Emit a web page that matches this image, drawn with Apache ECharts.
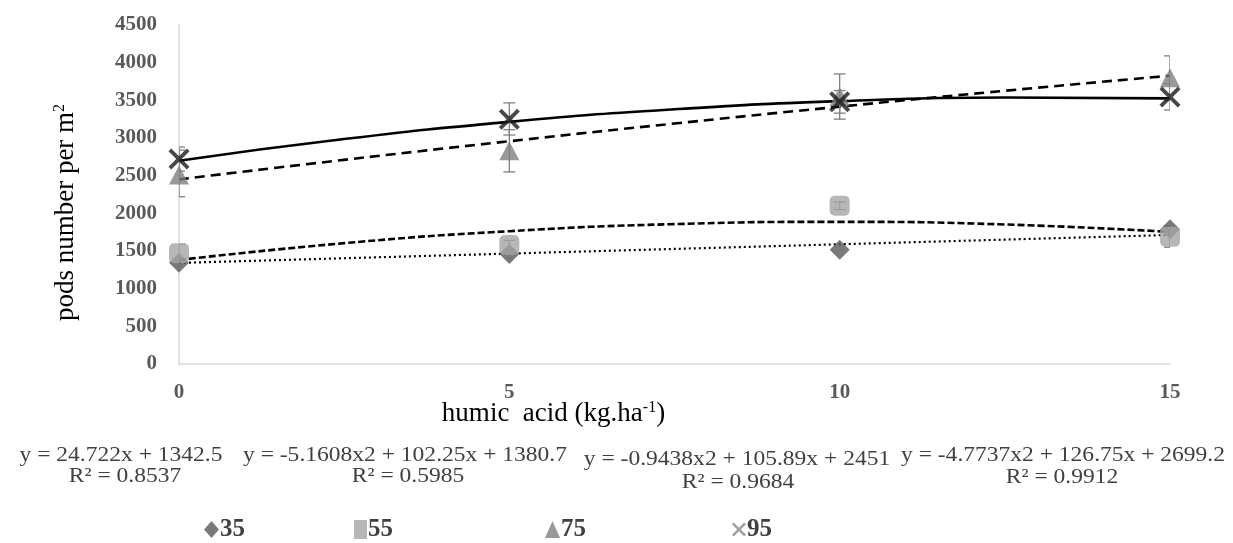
<!DOCTYPE html>
<html>
<head>
<meta charset="utf-8">
<script src="https://cdn.jsdelivr.net/npm/echarts@6/dist/echarts.min.js"></script>
<style>html,body{margin:0;padding:0;background:#fff}#c{width:1233px;height:543px}</style>
</head>
<body>
<div id="c"></div>
<script>
// ---- data ----
const xVals = [0, 5, 10, 15];
const seriesNames = ['35', '55', '75', '95'];
const s35 = [1345, 1460, 1515, 1790];
const s55 = [1470, 1580, 2100, 1690];
const s75 = [2510, 2830, 3550, 3800];
const s95 = [2720, 3250, 3480, 3545];
// error bar ends
const e55Low = [1400, 1520, 2050, 1550];
const e55High = [1590, 1640, 2150, 1830];
const e75Low = [2220, 2550, 3250, 3500];
const e75High = [2880, 3110, 3850, 4090];
const e95Low = [2560, 3040, 3330, 3373];
const e95High = [2840, 3466, 3630, 3720];
// trendline values
const trendX35 = [0, 15];
const trend35 = [1342, 1713];
const trendX = [0, 2.5, 5, 7.5, 10, 12.5, 15];
const trend55 = [1381, 1604, 1763, 1857, 1887, 1852, 1753];
const trend75 = [2451, 2710, 2957, 3192, 3416, 3627, 3827];
const trend95 = [2699, 2986, 3214, 3381, 3489, 3538, 3526];
// equations
const eqLines = ['y = 24.722x + 1342.5', 'y = -5.1608x2 + 102.25x + 1380.7', 'y = -0.9438x2 + 105.89x + 2451', 'y = -4.7737x2 + 126.75x + 2699.2'];
const r2Lines = ['R² = 0.8537', 'R² = 0.5985', 'R² = 0.9684', 'R² = 0.9912'];
const yTicks = [0, 500, 1000, 1500, 2000, 2500, 3000, 3500, 4000, 4500];

const FONT = '"Liberation Serif", "Times New Roman", serif';
const XPATH = 'path://M0,1.3L1.3,0L5,3.7L8.7,0L10,1.3L6.3,5L10,8.7L8.7,10L5,6.3L1.3,10L0,8.7L3.7,5Z';

function pts(xs, ys) { return xs.map((x, i) => [x, ys[i]]); }
function errData(lo, hi) { return xVals.map((x, i) => [x, lo[i], hi[i]]); }

function errSeries(lo, hi, color) {
  return {
    type: 'custom', clip: true, z: 3, silent: true,
    data: errData(lo, hi),
    encode: { x: 0, y: [1, 2] },
    renderItem: function (params, api) {
      const x = api.value(0);
      const a = api.coord([x, api.value(1)]);
      const b = api.coord([x, api.value(2)]);
      const w = 6;
      const st = { stroke: color, lineWidth: 1.3, fill: null };
      return {
        type: 'group',
        children: [
          { type: 'line', shape: { x1: a[0], y1: a[1], x2: b[0], y2: b[1] }, style: st },
          { type: 'line', shape: { x1: a[0] - w, y1: a[1], x2: a[0] + w, y2: a[1] }, style: st },
          { type: 'line', shape: { x1: b[0] - w, y1: b[1], x2: b[0] + w, y2: b[1] }, style: st }
        ]
      };
    }
  };
}

const chart = echarts.init(document.getElementById('c'), null, { renderer: 'canvas' });

const eqCenters = [121, 405, 737, 1063];
const r2Centers = [125, 408, 738, 1062];
const eqY = [455, 455, 459, 455];
const r2Y = [476, 476, 482, 477];
const graphics = [];
eqLines.forEach((t, i) => {
  graphics.push({ type: 'text', x: eqCenters[i], y: eqY[i], scaleX: 1.12,
    style: { text: t, font: '21px ' + FONT, fill: '#404040', align: 'center', verticalAlign: 'middle' } });
  graphics.push({ type: 'text', x: r2Centers[i], y: r2Y[i], scaleX: 1.12,
    style: { text: r2Lines[i], font: '21px ' + FONT, fill: '#404040', align: 'center', verticalAlign: 'middle' } });
});

const legendLeft = [204, 354, 545, 732];
const legendIcons = ['diamond', 'rect', 'triangle', XPATH];
const legendColors = ['#595959', '#a5a5a5', '#7f7f7f', '#8a8a8a'];
const legendW = [15, 13, 15, 14];
const legendH = [17, 19, 17, 14];

const option = {
  animation: false,
  backgroundColor: '#fff',
  textStyle: { fontFamily: FONT },
  grid: { left: 179, right: 63, top: 25, bottom: 179, containLabel: false },
  graphic: graphics,
  legend: seriesNames.map((n, i) => ({
    left: legendLeft[i], top: 517, padding: 0,
    data: [{ name: n, icon: legendIcons[i], itemStyle: { color: legendColors[i] } }],
    itemWidth: legendW[i], itemHeight: legendH[i], itemGap: 2,
    textStyle: { fontFamily: FONT, fontSize: 25, fontWeight: 'bold', color: '#404040', padding: [0, 0, 0, -4] }
  })),
  xAxis: {
    type: 'value', min: 0, max: 15, interval: 5,
    name: 'humic  acid (kg.ha{sup|-1})', nameLocation: 'middle', nameGap: 36, nameMoveOverlap: false,
    nameTextStyle: {
      fontFamily: FONT, fontSize: 27, color: '#000', padding: [0, 242, 0, 0],
      rich: { sup: { fontFamily: FONT, fontSize: 16, color: '#000', verticalAlign: 'top', padding: [0, 0, 12, 0] } }
    },
    axisLine: { show: true, onZero: false, lineStyle: { color: '#d9d9d9', width: 1.5 } },
    axisTick: { show: false },
    splitLine: { show: false },
    axisLabel: { fontFamily: FONT, fontSize: 21, fontWeight: 'bold', color: '#595959', margin: 18 }
  },
  yAxis: {
    type: 'value', min: 0, max: 4500, interval: 500,
    name: 'pods number per m{sup|2}', nameLocation: 'middle', nameGap: 99, nameRotate: 90, nameMoveOverlap: false,
    nameTextStyle: {
      fontFamily: FONT, fontSize: 27, color: '#000', padding: [0, 36, 0, 0],
      rich: { sup: { fontFamily: FONT, fontSize: 16, color: '#000', verticalAlign: 'top', padding: [0, 0, 12, 0] } }
    },
    axisLine: { show: true, lineStyle: { color: '#d9d9d9', width: 1.5 } },
    axisTick: { show: false },
    splitLine: { show: false },
    axisLabel: { fontFamily: FONT, fontSize: 21, fontWeight: 'bold', color: '#595959', margin: 22,
      formatter: v => yTicks.indexOf(v) >= 0 ? String(v) : '' }
  },
  series: [
    // trendlines
    { type: 'line', name: 't35', data: pts(trendX35, trend35), symbol: 'none', z: 2, silent: true,
      lineStyle: { color: '#000', width: 2.2, type: [2, 3] } },
    { type: 'line', name: 't55', data: pts(trendX, trend55), symbol: 'none', smooth: true, z: 2, silent: true,
      lineStyle: { color: '#000', width: 2.6, type: [7, 3] } },
    { type: 'line', name: 't75', data: pts(trendX, trend75), symbol: 'none', smooth: true, z: 2, silent: true,
      lineStyle: { color: '#000', width: 2.6, type: [10, 6] } },
    { type: 'line', name: 't95', data: pts(trendX, trend95), symbol: 'none', smooth: true, z: 2, silent: true,
      lineStyle: { color: '#000', width: 2.6 } },
    // error bars
    errSeries(e55Low, e55High, '#808080'),
    errSeries(e75Low, e75High, '#808080'),
    errSeries(e95Low, e95High, '#808080'),
    // markers
    { type: 'scatter', name: '35', data: pts(xVals, s35), symbol: 'diamond', symbolSize: [20, 20], z: 4,
      itemStyle: { color: '#595959' } },
    { type: 'scatter', name: '55', data: pts(xVals, s55), symbol: 'roundRect', symbolSize: [20, 20], z: 4,
      itemStyle: { color: '#a5a5a5' } },
    { type: 'scatter', name: '75', data: pts(xVals, s75), symbol: 'triangle', symbolSize: [20, 19], z: 4,
      itemStyle: { color: '#7f7f7f' } },
    { type: 'scatter', name: '95', data: pts(xVals, s95), symbol: XPATH, symbolSize: 21, z: 5,
      itemStyle: { color: '#1a1a1a' } }
  ]
};
chart.setOption(option);
</script>
</body>
</html>
